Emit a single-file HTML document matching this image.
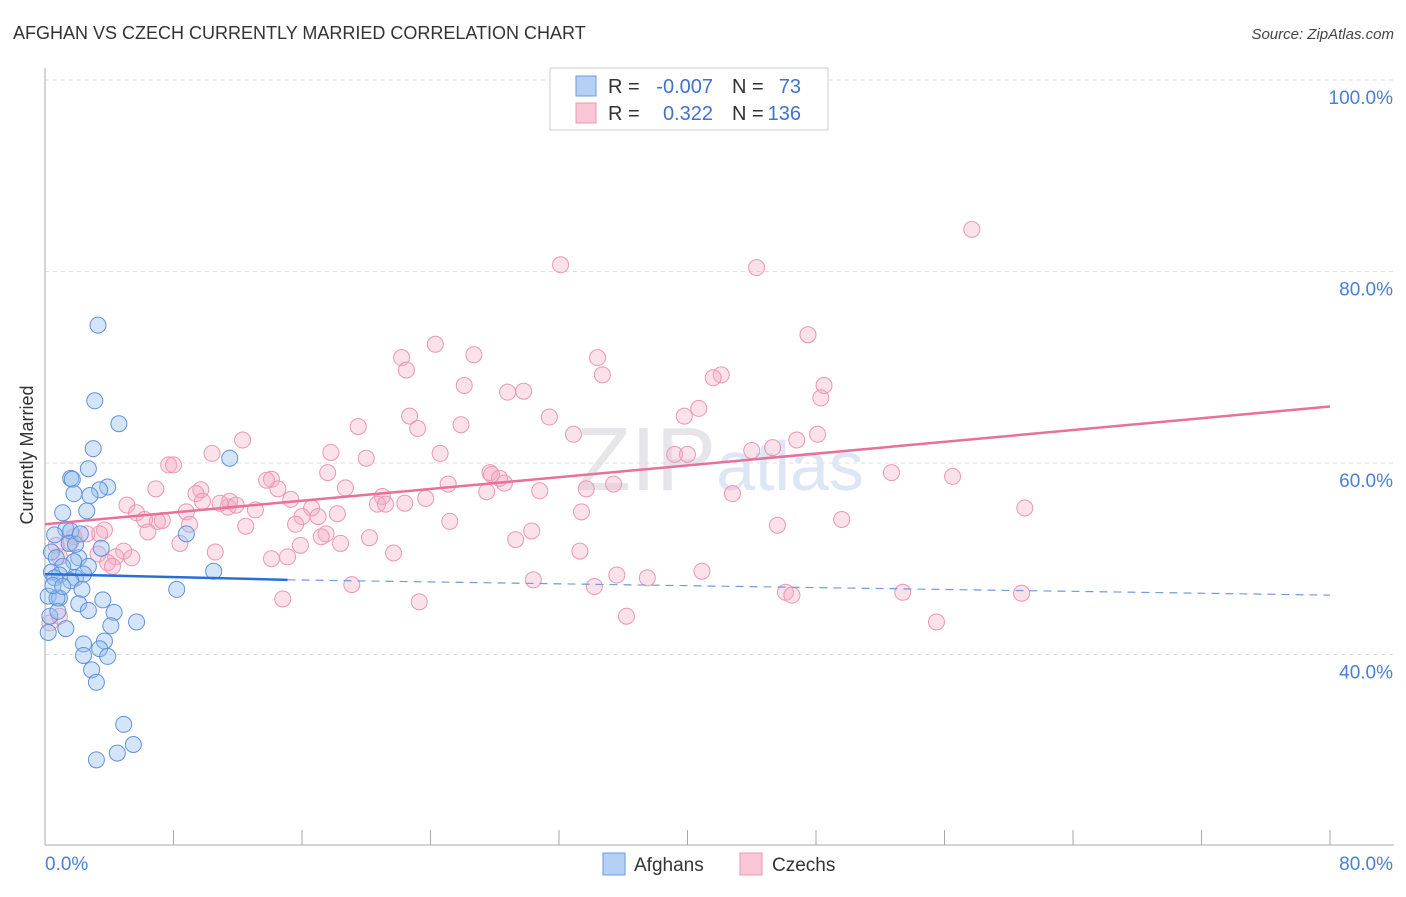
<!DOCTYPE html>
<html><head><meta charset="utf-8"><style>
body{margin:0;background:#fff;font-family:"Liberation Sans",sans-serif}
svg text{font-family:"Liberation Sans",sans-serif}
</style></head><body>
<svg id="chart" width="1406" height="892" xmlns="http://www.w3.org/2000/svg">
<text x="13" y="39" font-size="18" fill="#333">AFGHAN VS CZECH CURRENTLY MARRIED CORRELATION CHART</text>
<text x="1394" y="39" font-size="15" fill="#444" text-anchor="end" font-style="italic">Source: ZipAtlas.com</text>
<text transform="translate(33,455) rotate(-90)" font-size="18" fill="#333" text-anchor="middle">Currently Married</text>
<text x="720" y="490" font-size="90" fill="#e6e6ea" text-anchor="middle" font-family="Liberation Serif">ZIP<tspan fill="#dce6f4" font-family="Liberation Sans" font-size="70">atlas</tspan></text>
<g id="grid"></g><g id="axes"></g><g id="pts"></g><g id="lines"></g>
<g>
<rect x="550" y="68" width="278" height="62" fill="#fff" stroke="#ccc"/>
<rect x="576" y="76" width="20" height="20" fill="#b5d0f3" stroke="#6c9ae0"/>
<rect x="576" y="103" width="20" height="20" fill="#f8c6d4" stroke="#ec97b2"/>
<text x="608" y="93" font-size="20" fill="#333">R = </text><text x="713" y="93" font-size="20" fill="#3f73cc" text-anchor="end">-0.007</text>
<text x="732" y="93" font-size="20" fill="#333">N = </text><text x="801" y="93" font-size="20" fill="#3f73cc" text-anchor="end">73</text>
<text x="608" y="120" font-size="20" fill="#333">R = </text><text x="713" y="120" font-size="20" fill="#3f73cc" text-anchor="end">0.322</text>
<text x="732" y="120" font-size="20" fill="#333">N = </text><text x="801" y="120" font-size="20" fill="#3f73cc" text-anchor="end">136</text>
</g>
<g>
<rect x="603" y="853" width="22" height="22" fill="#b5d0f3" stroke="#6c9ae0"/>
<text x="634" y="871" font-size="19" fill="#333">Afghans</text>
<rect x="740" y="853" width="22" height="22" fill="#f8c6d4" stroke="#ec97b2"/>
<text x="772" y="871" font-size="19" fill="#333">Czechs</text>
</g>
</svg>
<script>
const yTicks=[40,60,80,100];
const yTickLabels=["40.0%","60.0%","80.0%","100.0%"];
const xTickLabels=["0.0%","80.0%"];
const afghanX=[3.3,3.1,4.6,3.0,11.5,2.7,1.6,1.7,3.9,3.4,1.8,2.8,1.1,2.6,1.3,1.6,0.6,8.8,3.5,0.4,0.7,2.1,1.8,1.1,2.7,0.4,0.9,1.9,2.4,10.5,1.6,0.6,2.3,8.2,0.2,0.9,3.6,2.1,2.7,4.3,5.7,4.1,1.3,0.2,3.7,2.4,3.4,3.9,2.4,2.9,3.2,4.9,5.5,4.5,3.2,0.75,1.5,0.5,1.1,1.9,2.2,0.3,0.8];
const afghanY=[74.4,66.5,64.1,61.5,60.5,59.4,58.4,58.3,57.5,57.2,56.8,56.6,54.8,55.0,53.1,52.9,52.5,52.6,51.1,50.7,50.1,50.1,49.7,49.2,49.2,48.6,48.3,48.0,48.4,48.7,47.7,48.0,46.8,46.8,46.1,45.9,45.7,45.3,44.6,44.4,43.4,43.0,42.7,42.3,41.4,41.1,40.6,39.8,39.9,38.4,37.1,32.7,30.6,29.7,29.0,45.9,51.6,47.2,47.1,51.5,52.6,44.0,44.5];
const czechX=[57.7,32.1,44.3,47.5,24.3,22.2,26.7,34.4,22.5,26.1,34.7,48.5,28.8,29.8,42.1,41.6,48.3,40.7,22.7,39.8,31.4,19.5,25.9,23.2,32.9,48.1,46.8,12.3,10.4,17.8,24.6,44.0,45.3,39.2,40.0,7.7,8.0,20.0,27.7,17.6,27.8,28.3,14.1,28.6,25.1,9.7,14.5,6.9,18.7,9.4,21.0,27.5,30.8,33.7,35.4,42.8,52.7,56.5,13.8,15.3,9.8,11.5,11.4,11.9,20.7,21.2,22.4,23.7,5.1,5.7,8.8,13.1,10.9,16.6,18.2,33.4,61.0,6.2,7.0,7.3,17.0,16.0,9.0,12.5,15.6,25.2,30.3,45.6,49.6,6.4,3.7,3.4,2.6,1.8,1.6,0.7,8.4,17.5,17.2,18.4,20.2,29.3,4.9,15.9,0.9,4.4,10.6,5.4,3.3,14.1,15.1,21.7,33.3,3.9,4.2,19.1,30.4,35.6,37.5,40.9,34.2,46.1,46.5,53.4,60.8,14.8,23.3,36.2,55.5,0.3,0.9];
const czechY=[84.4,80.7,80.4,73.4,72.4,71.0,71.3,71.0,69.7,68.1,69.2,68.1,67.4,67.5,69.2,68.9,66.8,65.7,64.9,64.9,64.8,63.8,64.0,63.6,63.0,63.0,62.4,62.4,61.0,61.1,61.0,61.3,61.6,60.9,60.9,59.8,59.8,60.5,59.0,59.0,58.8,58.4,58.3,57.9,57.8,57.2,57.3,57.3,57.4,56.8,56.5,57.0,57.1,57.3,57.8,56.8,59.0,58.6,58.2,56.2,56.0,56.0,55.4,55.6,55.7,55.7,55.8,56.3,55.6,54.8,54.9,55.1,55.8,55.3,54.7,54.9,55.3,54.1,53.9,54.0,54.4,54.4,53.6,53.4,53.6,53.9,52.9,53.5,54.1,52.8,53.0,52.6,52.6,52.3,51.7,51.4,51.6,52.6,52.3,51.6,52.2,52.0,50.8,51.4,50.2,50.2,50.7,50.1,50.5,50.0,50.2,50.6,50.8,49.6,49.2,47.3,47.8,48.3,48.0,48.7,47.1,46.5,46.2,46.5,46.4,45.8,45.5,44.0,43.4,43.3,44.0,44.5];
const trendPink=[[0,53.6],[80,65.9]];
const trendBlueSolid=[[0,48.4],[15.1,47.8]];
const trendBlueDash=[[15.1,47.8],[80,46.2]];
const NS="http://www.w3.org/2000/svg";
const X0=45,X1=1330,Y100=80,Y0=1037.5;
function sx(v){return X0+(X1-X0)*v/80;}
function sy(v){return Y0+(Y100-Y0)*v/100;}
function mk(t,a,p){const e=document.createElementNS(NS,t);for(const k in a)e.setAttribute(k,a[k]);p.appendChild(e);return e;}
const grid=document.getElementById('grid'),axes=document.getElementById('axes');
yTicks.forEach((t,i)=>{
 const l=mk('line',{x1:45,x2:1394,y1:sy(t),y2:sy(t),stroke:'#ddd','stroke-dasharray':'4,4'},grid);
 
 
 const tx=mk('text',{x:1393,y:sy(t)+24,'font-size':19,fill:'#4a7fd4','text-anchor':'end'},axes);
 tx.textContent=yTickLabels[i];
 
 
});
const ax=mk('line',{x1:45,x2:45,y1:68,y2:845,stroke:'#aaa'},axes);


const bx=mk('line',{x1:45,x2:1394,y1:845,y2:845,stroke:'#aaa'},axes);


for(let i=0;i<=10;i++){const t=mk('line',{x1:sx(i*8),x2:sx(i*8),y1:830,y2:845,stroke:'#aaa'},axes);
 
 }
[[0,'start'],[80,'end']].forEach((p,i)=>{const t=mk('text',{x:i?1393:45,y:870,'font-size':19,fill:'#4a7fd4','text-anchor':p[1]},axes);t.textContent=xTickLabels[i];
 
 });
const pts=document.getElementById('pts');
czechX.forEach((x,i)=>{const c=mk('circle',{cx:sx(x),cy:sy(czechY[i]),r:8,fill:'rgba(244,170,195,0.35)',stroke:'#ec97b2','stroke-width':1},pts);
 
 });
afghanX.forEach((x,i)=>{const c=mk('circle',{cx:sx(x),cy:sy(afghanY[i]),r:8,fill:'rgba(150,190,240,0.4)',stroke:'#5f92dc','stroke-width':1},pts);
 
 });
const lines=document.getElementById('lines');
function ln(p,st,w,d,n){const e=mk('line',{x1:sx(p[0][0]),y1:sy(p[0][1]),x2:sx(p[1][0]),y2:sy(p[1][1]),stroke:st,'stroke-width':w},lines);if(d)e.setAttribute('stroke-dasharray',d);
 
 }
ln(trendPink,'#e8709a',2.5,null,'czech-trend-line');
ln(trendBlueSolid,'#2a6fd6',2.5,null,'afghan-trend-line');
ln(trendBlueDash,'#6f9be0',1.2,'8,6','afghan-trend-extension');
</script>
</body></html>
